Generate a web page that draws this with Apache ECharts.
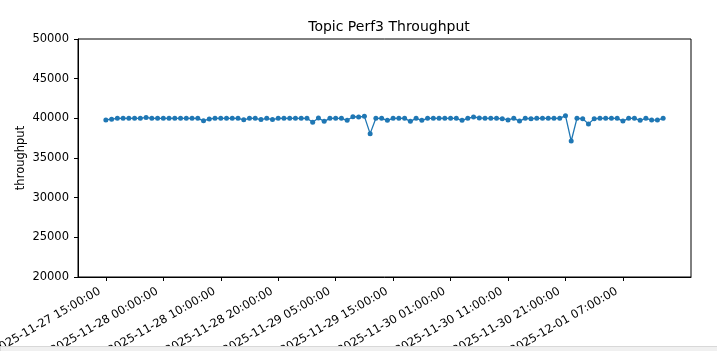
<!DOCTYPE html>
<html>
<head>
<meta charset="utf-8">
<script src="https://cdn.jsdelivr.net/npm/echarts@6/dist/echarts.min.js"></script>
<style>
  html, body { margin: 0; padding: 0; background: #fff; }
  #chart { width: 717px; height: 351px; }
</style>
</head>
<body>
<div id="chart"></div>
<script>
// hourly samples
var throughput = [
  39800, 39900, 40000, 40000, 40000, 40000, 40000, 40120, 40000, 40000,
  40000, 40000, 40000, 40000, 40000, 40000, 40000, 39680, 39920, 40000,
  40000, 40000, 40000, 40000, 39820, 40000, 40000, 39850, 40000, 39850,
  40000, 40000, 40000, 40000, 40000, 40000, 39500, 40050, 39620, 40000,
  40000, 40000, 39750, 40200, 40170, 40250, 38070, 40000, 40000, 39750,
  40000, 40000, 40000, 39620, 40000, 39750, 40000, 40000, 40000, 40000,
  40000, 40000, 39750, 40000, 40170, 40050, 40000, 40000, 40000, 39950,
  39800, 40000, 39650, 40000, 39950, 40000, 40000, 40000, 40000, 40000,
  40330, 37140, 40000, 39950, 39300, 39950, 40000, 40000, 40000, 40000,
  39650, 40000, 40000, 39750, 40000, 39780, 39780, 40000
]

// one label every 10 samples
var tickIndex = [0, 10, 20, 30, 40, 50, 60, 70, 80, 90]
var tickLabels = [
  '2025-11-27 15:00:00',
  '2025-11-28 00:00:00',
  '2025-11-28 10:00:00',
  '2025-11-28 20:00:00',
  '2025-11-29 05:00:00',
  '2025-11-29 15:00:00',
  '2025-11-30 01:00:00',
  '2025-11-30 11:00:00',
  '2025-11-30 21:00:00',
  '2025-12-01 07:00:00'
]

var yTicks = [20000, 25000, 30000, 35000, 40000, 45000, 50000]

var chart = echarts.init(document.getElementById('chart'), null, { renderer: 'canvas' })

var font = 'DejaVu Sans'
var n = throughput.length
var pad = (n - 1) * 0.05 // matplotlib default margins

chart.setOption({
  animation: false,
  backgroundColor: '#fff',
  title: {
    text: 'Topic Perf3 Throughput',
    left: 384,
    textAlign: 'center',
    top: 15,
    textStyle: { fontFamily: font, fontSize: 14, fontWeight: 'normal', color: '#000' }
  },
  grid: {
    left: 78,
    right: 26,
    top: 39,
    bottom: 74,
    show: true,
    borderColor: '#000',
    borderWidth: 1,
    containLabel: false,
    outerBoundsMode: 'none'
  },
  xAxis: {
    type: 'value',
    min: -pad,
    max: n - 1 + pad,
    splitLine: { show: false },
    axisLine: { show: true, onZero: false, lineStyle: { color: '#000', width: 1 } },
    axisTick: {
      show: true,
      length: 4,
      customValues: tickIndex,
      lineStyle: { color: '#000' }
    },
    axisLabel: {
      rotate: 30,
      margin: 10,
      padding: [0, 7, 0, 0],
      customValues: tickIndex,
      fontFamily: font,
      fontSize: 11.5,
      color: '#000',
      formatter: function(v) {
        return tickLabels[tickIndex.indexOf(v)]
      }
    }
  },
  yAxis: {
    type: 'value',
    min: yTicks[0],
    max: yTicks[yTicks.length - 1],
    interval: 5000,
    name: 'throughput',
    nameLocation: 'middle',
    nameGap: 51,
    nameRotate: 90,
    nameMoveOverlap: false,
    nameTextStyle: { fontFamily: font, fontSize: 11.5, color: '#000' },
    splitLine: { show: false },
    axisLine: { show: true, onZero: false, lineStyle: { color: '#000', width: 1 } },
    axisTick: { show: true, length: 4, lineStyle: { color: '#000' } },
    axisLabel: {
      margin: 9,
      fontFamily: font,
      fontSize: 11.5,
      color: '#000',
      formatter: function(v) { return String(v) }
    }
  },
  series: [{
    type: 'line',
    data: throughput.map(function(v, i) { return [i, v] }),
    symbol: 'circle',
    symbolSize: 5,
    showSymbol: true,
    lineStyle: { color: '#1f77b4', width: 1.3 },
    itemStyle: { color: '#1f77b4' }
  }],
  graphic: [{
    type: 'rect',
    left: 0,
    top: 346,
    shape: { width: 717, height: 5 },
    style: { fill: '#f0f0f0', stroke: '#d8d8d8', lineWidth: 1 },
    z: 100
  }]
})
</script>
</body>
</html>
